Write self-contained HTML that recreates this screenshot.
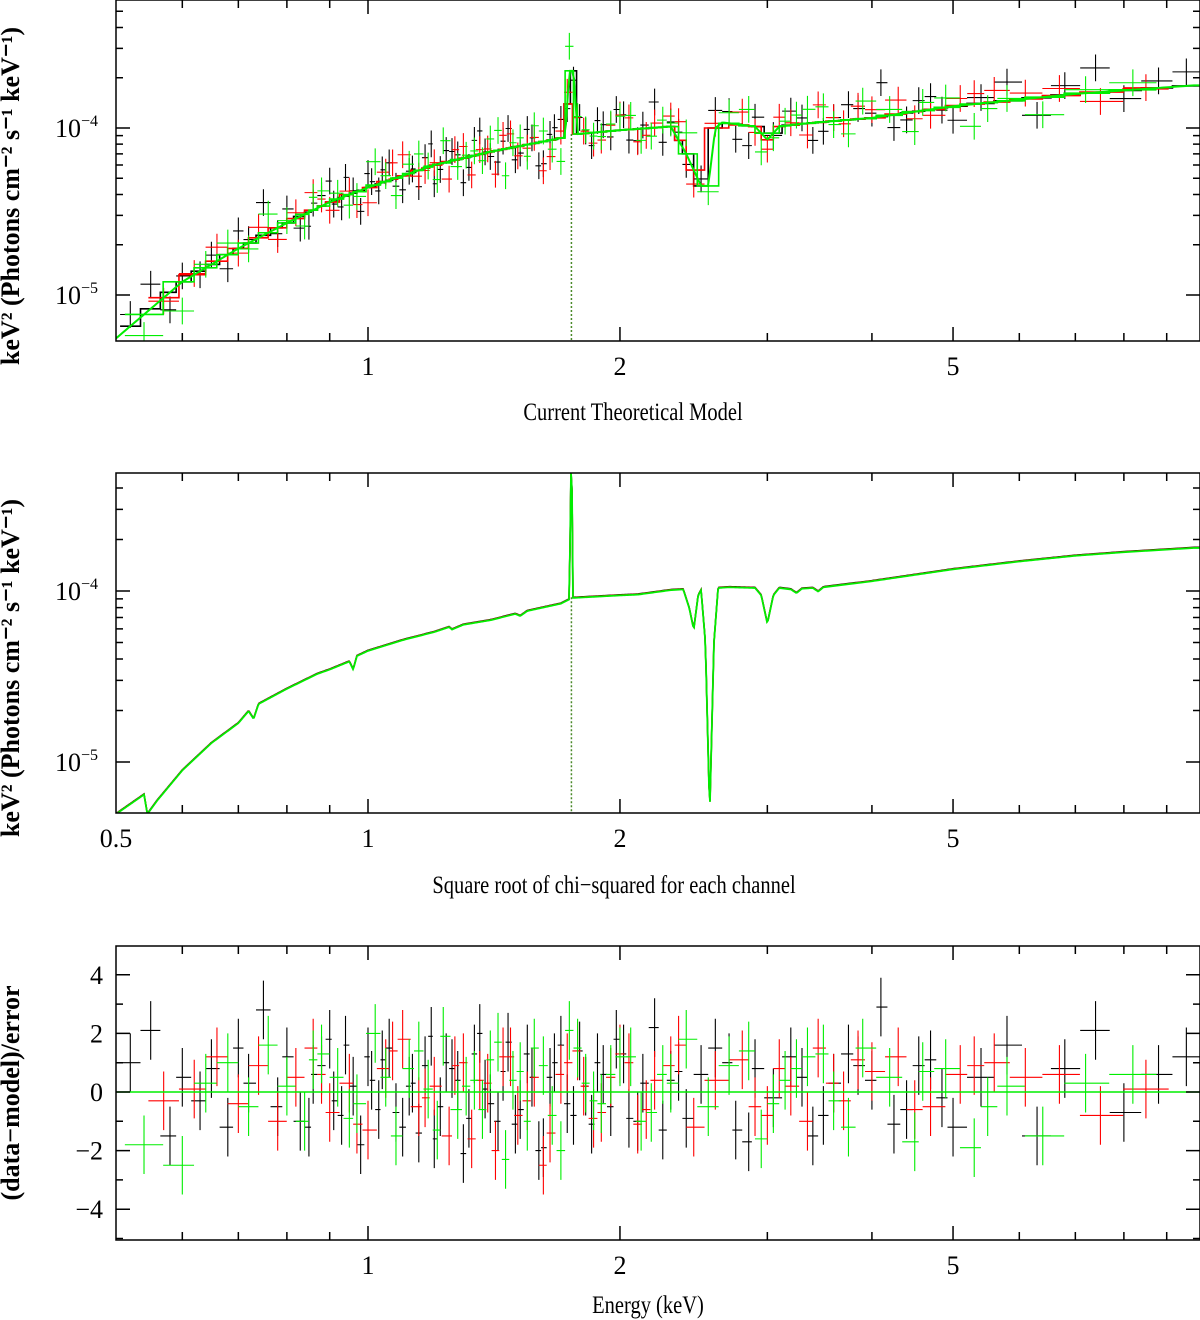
<!DOCTYPE html>
<html><head><meta charset="utf-8"><style>
html,body{margin:0;padding:0;background:#fff;}
svg{display:block;}
text{font-family:"Liberation Serif",serif;}
</style></head><body>
<svg id="chart" width="1200" height="1320" viewBox="0 0 1200 1320" xmlns="http://www.w3.org/2000/svg">
<defs>
<clipPath id="c1"><rect x="116" y="0" width="1084" height="341"/></clipPath>
<clipPath id="c2"><rect x="116" y="473" width="1084" height="340"/></clipPath>
<clipPath id="c3"><rect x="116" y="946" width="1084" height="294"/></clipPath>
</defs>
<g id="g1"></g>
<g id="g2"></g>
<g id="g3"></g>
<g id="axes"></g>
<text transform="translate(19,196) rotate(-90)" text-anchor="middle" font-size="26" font-weight="bold">keV² (Photons cm⁻² s⁻¹ keV⁻¹)</text>
<text transform="translate(19,668) rotate(-90)" text-anchor="middle" font-size="26" font-weight="bold">keV² (Photons cm⁻² s⁻¹ keV⁻¹)</text>
<text transform="translate(19,1093) rotate(-90)" text-anchor="middle" font-size="26" font-weight="bold">(data−model)/error</text>
<text x="633" y="420" text-anchor="middle" font-size="25" transform="translate(633,0) scale(0.82,1) translate(-633,0)">Current Theoretical Model</text>
<text x="614" y="893" text-anchor="middle" font-size="25" transform="translate(614,0) scale(0.82,1) translate(-614,0)">Square root of chi−squared for each channel</text>
<text x="648" y="1313" text-anchor="middle" font-size="25" transform="translate(648,0) scale(0.82,1) translate(-648,0)">Energy (keV)</text>
</svg>
<script>
// ---- data ----
const modelE=[0.5,0.54,0.545,0.56,0.6,0.65,0.7,0.72,0.73,0.74,0.8,0.87,0.9,0.95,0.96,0.97,1.0,1.1,1.2,1.25,1.26,1.3,1.4,1.5,1.52,1.55,1.7,1.74,1.748,1.752,1.756,1.77,2.0,2.1,2.3,2.38,2.42,2.45,2.48,2.5,2.53,2.56,2.59,2.62,2.7,2.9,2.95,3.0,3.05,3.1,3.2,3.25,3.3,3.4,3.45,3.5,4,5,6,7,8,9.7];
const modelF=[0.05,0.065,0.05,0.06,0.09,0.13,0.17,0.2,0.18,0.22,0.27,0.33,0.35,0.39,0.35,0.42,0.45,0.52,0.58,0.62,0.6,0.64,0.68,0.74,0.72,0.77,0.85,0.9,5,5.5,0.92,0.92,0.95,0.96,1.02,1.03,0.8,0.6,0.95,1.02,0.5,0.05,0.5,1.05,1.06,1.05,0.95,0.65,0.95,1.05,1.03,0.98,1.04,1.05,1.0,1.06,1.15,1.35,1.5,1.62,1.7,1.8];
const foldE=[0.5,0.6,0.7,0.8,0.9,1.0,1.2,1.4,1.6,1.72,1.74,1.76,1.78,2.0,2.3,2.4,2.5,2.55,2.6,2.65,2.9,3.0,3.1,3.3,4,5,7,9.7];
const foldF=[0.055,0.12,0.19,0.27,0.36,0.44,0.6,0.72,0.82,0.88,2.2,2.2,0.92,0.97,1.02,0.7,0.45,0.45,1.0,1.08,1.02,0.85,1.02,1.06,1.15,1.35,1.6,1.8];
const blackE=[0.52,0.55,0.58,0.6,0.63,0.65,0.68,0.7,0.72,0.75,0.78,0.8,0.83,0.86,0.9,0.93,0.96,1.0,1.03,1.06,1.1,1.13,1.17,1.2,1.24,1.28,1.32,1.36,1.4,1.45,1.5,1.55,1.6,1.65,1.7,1.76,1.82,1.88,1.95,2.02,2.1,2.2,2.3,2.4,2.5,2.6,2.75,2.9,3.05,3.2,3.4,3.6,3.85,4.1,4.4,4.7,5.0,5.4,5.8,6.3,6.8,7.4,8.0,8.8,9.5];
const blackR=[1.0,2.1,-1.5,0.5,-0.3,0.8,-1.2,1.5,0.3,2.8,-0.5,1.2,-1.0,0.6,1.8,-0.8,0.2,1.2,-0.6,1.5,-1.2,0.3,0.9,-1.6,1.0,0.4,-0.9,2.0,-0.4,0.7,-1.1,1.3,-2.0,0.5,1.6,-0.8,0.2,1.0,-0.5,1.3,-1.0,2.2,0.4,-0.9,0.6,1.5,-1.3,0.8,-0.2,1.2,-1.5,0.3,0.9,2.9,-0.6,1.1,-1.2,0.5,1.6,-1.5,0.8,2.1,-0.7,0.6,1.2];
const blackE2=[0.85,0.88,0.91,0.94,0.98,1.01,1.04,1.08,1.12,1.15,1.19,1.22,1.26,1.3,1.34,1.38,1.43,1.47,1.52,1.57,1.62,1.67,1.73,1.79,1.85,1.91,1.98,2.05,2.13,2.25,2.35,2.7,2.85,3.3,3.5,3.75,4.0,4.25,4.55,4.85];
const blackR2=[-1.2,0.9,-0.3,1.6,-1.8,0.4,1.1,-0.7,0.2,-1.4,1.9,-0.5,0.8,-2.1,1.3,0.1,-1.0,1.7,-0.6,0.5,-1.9,1.0,-0.4,1.4,-1.1,0.6,1.8,-0.9,0.3,-1.3,0.7,1.0,-1.7,0.5,-0.8,1.3,0.4,-1.1,0.9,-0.2];
const redE=[0.57,0.62,0.66,0.7,0.74,0.78,0.82,0.86,0.9,0.95,1.0,1.05,1.1,1.15,1.2,1.25,1.3,1.36,1.42,1.48,1.55,1.62,1.7,1.78,1.86,1.95,2.05,2.15,2.3,2.45,2.6,2.8,3.0,3.2,3.45,3.7,4.0,4.3,4.7,5.1,5.6,6.1,6.7,7.5,8.5];
const redR=[-0.3,0.1,1.2,-0.4,0.9,-1.0,0.5,1.5,-0.7,0.3,-1.3,0.8,1.8,-0.5,0.2,-1.5,1.0,0.4,-2.0,1.2,-0.3,-2.5,0.6,1.4,-0.9,0.5,1.0,-0.6,0.9,-1.2,0.4,1.1,-0.8,0.2,1.5,-0.3,0.7,1.2,-0.5,0.6,1.0,0.5,0.6,-0.8,0.1];
const redE2=[0.88,0.97,1.07,1.17,1.27,1.33,1.39,1.45,1.51,1.58,1.65,1.73,1.81,1.9,2.0,2.1,2.2,2.35,2.9,3.1,3.35,3.6,3.85,4.5,5.3];
const redR2=[0.6,-1.1,1.4,-0.2,0.9,-1.6,0.3,1.2,-0.8,0.5,-1.4,1.0,0.2,-0.7,1.3,-1.1,0.4,1.6,-0.5,0.8,-1.0,0.3,1.1,-0.6,0.9];
const greenE=[0.54,0.6,0.64,0.68,0.72,0.76,0.8,0.84,0.88,0.92,0.97,1.02,1.08,1.12,1.18,1.23,1.28,1.34,1.4,1.46,1.52,1.58,1.66,1.74,1.82,1.9,2.0,2.12,2.25,2.4,2.55,2.7,2.95,3.15,3.35,3.6,3.9,4.2,4.5,4.9,5.3,5.8,6.4,7.2,8.2];
const greenR=[-1.8,-2.5,0.3,1.0,-0.5,1.6,0.2,-1.0,1.3,0.5,-0.4,2.0,-1.5,0.8,0.1,1.9,-0.6,0.4,1.1,-2.3,0.7,1.5,-0.8,2.1,0.3,-0.4,1.2,-1.0,0.6,1.8,-0.5,0.9,-1.6,0.4,1.2,-0.3,1.5,0.5,-1.7,0.8,-1.9,0.2,-1.5,0.3,0.6];
const greenE2=[0.86,0.95,1.05,1.15,1.21,1.31,1.37,1.43,1.49,1.55,1.62,1.7,1.78,1.86,1.95,2.06,2.18,2.3,2.85,3.05,3.25,3.5,3.75,4.6,5.5];
const greenR2=[1.1,-0.9,0.5,1.4,-1.3,0.2,-0.6,1.7,0.4,-1.0,0.9,-2.0,1.5,-0.3,0.6,1.2,-0.7,0.3,1.4,-0.4,0.8,1.3,-1.2,0.7,-0.5];
const lineE=1.75;
const xTickLabels=["1","2","5"];
const xTickValues=[1,2,5];
const resTicks=[4,2,0,-2,-4];
const logTicks=[-4,-5];

// ---- scales ----
const NS="http://www.w3.org/2000/svg";
const X=e=>368+837*Math.log10(e);
const Y1=f=>128-167*Math.log10(f);
const Y2=f=>591-171*Math.log10(f);
const Y3=r=>1092-29.3*r;
function interp(E,F,e){
  if(e<=E[0])return F[0];
  for(let i=1;i<E.length;i++){if(e<=E[i]){const t=(Math.log(e)-Math.log(E[i-1]))/(Math.log(E[i])-Math.log(E[i-1]));return Math.exp(Math.log(F[i-1])+t*(Math.log(F[i])-Math.log(F[i-1])));}}
  return F[F.length-1];
}
function mk(tag,attrs,parent){const el=document.createElementNS(NS,tag);for(const k in attrs)el.setAttribute(k,attrs[k]);parent.appendChild(el);return el;}
function merge(a,ar,b,br){const p=a.map((e,i)=>[e,ar[i]]).concat(b.map((e,i)=>[e,br[i]]));p.sort((u,v)=>u[0]-v[0]);return {E:p.map(q=>q[0]),R:p.map(q=>q[1])};}
const g1=document.getElementById('g1'),g2=document.getElementById('g2'),g3=document.getElementById('g3'),ax=document.getElementById('axes');
g1.setAttribute('clip-path','url(#c1)');g2.setAttribute('clip-path','url(#c2)');g3.setAttribute('clip-path','url(#c3)');

const mb=merge(blackE,blackR,blackE2,blackR2),mr=merge(redE,redR,redE2,redR2),mg=merge(greenE,greenR,greenE2,greenR2);
const series=[{E:mb.E,R:mb.R,c:'#000',n:'black'},{E:mr.E,R:mr.R,c:'#ff0000',n:'red'},{E:mg.E,R:mg.R,c:'#00ee00',n:'green'}];
series.forEach(s=>{
  const N=s.E.length;
  let step='';
  for(let i=0;i<N;i++){
    const e=s.E[i],r=s.R[i];
    const lo=i>0?Math.sqrt(s.E[i-1]*e):e*e/Math.sqrt(e*s.E[i+1]);
    const hi=i<N-1?Math.sqrt(s.E[i+1]*e):e*e/Math.sqrt(e*s.E[i-1]);
    const m=interp(foldE,foldF,e);
    const f=m*Math.pow(10,r*0.07);
    const p=mk('path',{d:`M${X(lo)},${Y1(f)}H${X(hi)}M${X(e)},${Y1(f*Math.pow(10,0.08))}V${Y1(f/Math.pow(10,0.08))}`,stroke:s.c,'stroke-width':1.1,fill:'none'},g1);
    
    
    const q=mk('path',{d:`M${X(lo)},${Y3(r)}H${X(hi)}M${X(e)},${Y3(r+1)}V${Y3(r-1)}`,stroke:s.c,'stroke-width':1.1,fill:'none'},g3);
    
    
    step+=(i==0?'M':'L')+X(lo)+','+Y1(m)+'H'+X(hi);
  }
  const l=mk('path',{d:step,stroke:s.c,'stroke-width':1.6,fill:'none'},g1);
  
  
});
let fd='';
for(let x=116;x<=1200;x+=2){const e=Math.pow(10,(x-368)/837);fd+=(x==116?'M':'L')+x+','+Y1(interp(foldE,foldF,e));}
const fl=mk('path',{d:fd,stroke:'#00ee00','stroke-width':2,fill:'none'},g1);


['#000','#ff0000','#00ee00'].forEach((c,k)=>{
  let d='';
  for(let x=116;x<=1200;x+=1){const e=Math.pow(10,(x-368)/837);d+=(x==116?'M':'L')+x+','+(Y2(interp(modelE,modelF,e))+k*0.3);}
  const pl=mk('path',{d:d,stroke:c,'stroke-width':k==2?1.8:1.6,fill:'none'},g2);
  
  
});
const dl=mk('line',{x1:X(lineE),x2:X(lineE),y1:Y2(0.92),y2:813,stroke:'#4a8a2a','stroke-width':1.5,'stroke-dasharray':'2,2'},g2);


const dl1=mk('line',{x1:X(lineE),x2:X(lineE),y1:Y1(0.92),y2:341,stroke:'#4a8a2a','stroke-width':1.5,'stroke-dasharray':'2,2'},g1);


const zl=mk('line',{x1:116,x2:1200,y1:Y3(0),y2:Y3(0),stroke:'#00ee00','stroke-width':1.6},g3);



// ---- axes ----
const panels=[{t:0,b:341,Y:Y1,log:true},{t:473,b:813,Y:Y2,log:true},{t:946,b:1240,Y:Y3,log:false}];
const minorX=[0.6,0.7,0.8,0.9,3,4,6,7,8,9];
panels.forEach((p,pi)=>{
  const fr=mk('rect',{x:116,y:p.t,width:1084,height:p.b-p.t,fill:'none',stroke:'#000','stroke-width':1.5},ax);
  
  
  let d='';
  const inR=y=>y>p.t+1&&y<p.b-1;
  xTickValues.forEach(v=>{d+=`M${X(v)},${p.b}v-14M${X(v)},${p.t}v14`;});
  minorX.forEach(v=>{d+=`M${X(v)},${p.b}v-8M${X(v)},${p.t}v8`;});
  if(p.log){
    logTicks.forEach(k=>{const y0=p.Y(Math.pow(10,k+4));if(inR(y0))d+=`M116,${y0}h14M1200,${y0}h-14`;
      for(let m=2;m<=9;m++){const y=p.Y(m*Math.pow(10,k+4));if(inR(y))d+=`M116,${y}h7M1200,${y}h-7`;}});
  } else {
    resTicks.forEach(v=>{d+=`M116,${p.Y(v)}h14M1200,${p.Y(v)}h-14`;});
    for(let v=-5;v<=5;v++){const y=p.Y(v);if(inR(y))d+=`M116,${y}h7M1200,${y}h-7`;}
  }
  const tk=mk('path',{d:d,stroke:'#000','stroke-width':1.5,fill:'none'},ax);
  
  
  xTickLabels.forEach((lab,i)=>{
    const t=mk('text',{x:X(xTickValues[i]),y:p.b+34,'text-anchor':'middle','font-size':26},ax);
    t.textContent=lab;
    
    
  });
  if(pi==1){const t=mk('text',{x:116,y:p.b+34,'text-anchor':'middle','font-size':26},ax);t.textContent='0.5';
    
    }
  if(p.log){
    logTicks.forEach(k=>{
      const t=mk('text',{x:98,y:p.Y(Math.pow(10,k+4))+9,'text-anchor':'end','font-size':26},ax);
      t.textContent='10';
      const s=mk('tspan',{dy:-11,'font-size':16},t);s.textContent=String(k).replace('-','−');
      
      
    });
  } else {
    resTicks.forEach(v=>{
      const t=mk('text',{x:103,y:p.Y(v)+9,'text-anchor':'end','font-size':26},ax);
      t.textContent=String(v).replace('-','−');
      
      
    });
  }
});
</script>
</body></html>
